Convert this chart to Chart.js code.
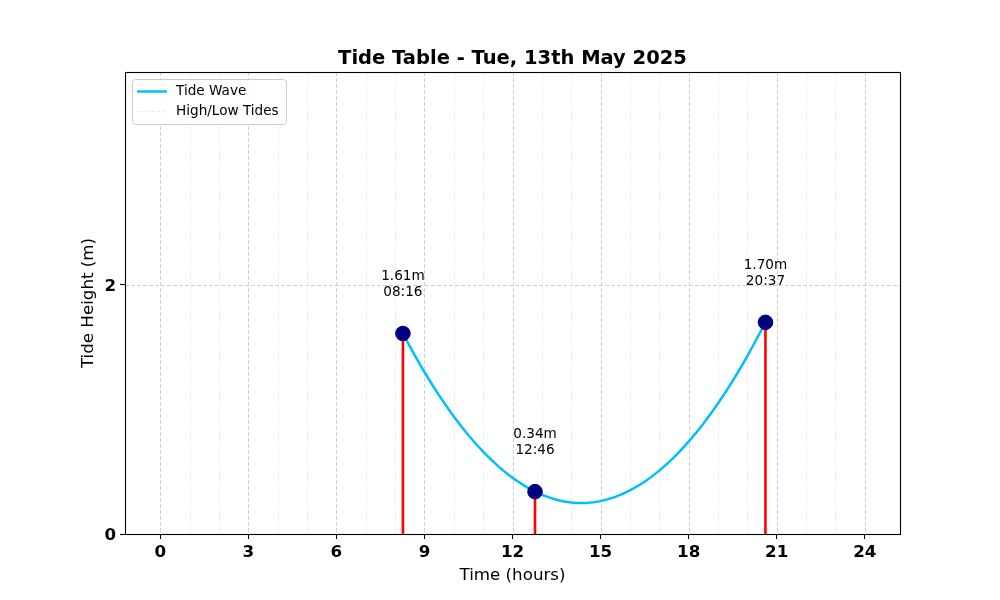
<!DOCTYPE html>
<html><head><meta charset="utf-8">
<script src="https://cdn.jsdelivr.net/npm/chart.js@4.4.0/dist/chart.umd.min.js"></script>
<style>html,body{margin:0;padding:0;background:#fff}</style>
</head><body>
<canvas id="c" width="1000" height="600"></canvas>
<script>
const titleText = "Tide Table - Tue, 13th May 2025";
const xAxisTitle = "Time (hours)";
const yAxisTitle = "Tide Height (m)";
const legendLabels = ["Tide Wave", "High/Low Tides"];

const tideTimes = [8.267, 12.767, 20.617];
const tideClock = ["08:16", "12:46", "20:37"];
const tideHeights = [1.61, 0.34, 1.70];

const waveHours = [8.267, 8.5, 9, 9.5, 10, 10.5, 11, 11.5, 12, 12.5, 12.767, 13, 13.5, 14, 14.5, 15, 15.5, 16, 16.5, 17, 17.5, 18, 18.5, 19, 19.5, 20, 20.5, 20.617];
const waveHeights = [1.61, 1.508, 1.301, 1.113, 0.944, 0.793, 0.661, 0.547, 0.451, 0.374, 0.34, 0.315, 0.275, 0.253, 0.249, 0.264, 0.298, 0.350, 0.420, 0.509, 0.616, 0.742, 0.886, 1.048, 1.229, 1.429, 1.647, 1.70];

const xMajorTicks = [0, 3, 6, 9, 12, 15, 18, 21, 24];
const xMinorTicks = [1, 2, 4, 5, 7, 8, 10, 11, 13, 14, 16, 17, 19, 20, 22, 23];
const yTicks = [0, 2];

const FONT = "'DejaVu Sans', 'Liberation Sans', sans-serif";

const decorPlugin = {
  id: 'decor',
  beforeDatasetsDraw(chart) {
    const c = chart.ctx, xs = chart.scales.x, ys = chart.scales.y, a = chart.chartArea;
    c.save();
    c.strokeStyle = '#dddddd'; c.lineWidth = 0.6; c.setLineDash([3, 2]);
    xMinorTicks.forEach(v => {
      const px = Math.round(xs.getPixelForValue(v)) + 0.5;
      c.beginPath(); c.moveTo(px, a.top); c.lineTo(px, a.bottom); c.stroke();
    });
    c.strokeStyle = '#cccccc'; c.lineWidth = 0.9; c.setLineDash([4, 2]);
    xMajorTicks.forEach(v => {
      const px = Math.round(xs.getPixelForValue(v)) + 0.5;
      c.beginPath(); c.moveTo(px, a.top); c.lineTo(px, a.bottom); c.stroke();
    });
    yTicks.forEach(v => {
      const py = Math.round(ys.getPixelForValue(v)) + 0.5;
      c.beginPath(); c.moveTo(a.left, py); c.lineTo(a.right, py); c.stroke();
    });
    c.restore();
  },
  afterDatasetsDraw(chart) {
    const c = chart.ctx, xs = chart.scales.x, ys = chart.scales.y, a = chart.chartArea;
    c.save();
    c.setLineDash([]);
    c.strokeStyle = '#000'; c.lineWidth = 1.1;
    c.strokeRect(Math.round(a.left) + 0.5, Math.round(a.top) + 0.5, Math.round(a.right - a.left), Math.round(a.bottom - a.top));
    c.fillStyle = '#000';
    c.font = "13.6px " + FONT;
    c.textAlign = 'center'; c.textBaseline = 'middle';
    tideTimes.forEach((t, i) => {
      const px = xs.getPixelForValue(t), py = ys.getPixelForValue(tideHeights[i]);
      c.fillText(tideHeights[i].toFixed(2) + 'm', px, py - 57);
      c.fillText(tideClock[i], px, py - 41);
    });
    c.font = "bold 19.5px " + FONT;
    c.fillText(titleText, (a.left + a.right) / 2, 58.5);
    c.font = "16.7px " + FONT;
    c.fillText(xAxisTitle, (a.left + a.right) / 2, 575.5);
    c.save();
    c.translate(88.5, (a.top + a.bottom) / 2);
    c.rotate(-Math.PI / 2);
    c.fillText(yAxisTitle, 0, 0);
    c.restore();
    const lx = 132.5, ly = 79.5, lw = 154, lh = 45, r = 3;
    c.beginPath();
    c.moveTo(lx + r, ly); c.lineTo(lx + lw - r, ly); c.quadraticCurveTo(lx + lw, ly, lx + lw, ly + r);
    c.lineTo(lx + lw, ly + lh - r); c.quadraticCurveTo(lx + lw, ly + lh, lx + lw - r, ly + lh);
    c.lineTo(lx + r, ly + lh); c.quadraticCurveTo(lx, ly + lh, lx, ly + lh - r);
    c.lineTo(lx, ly + r); c.quadraticCurveTo(lx, ly, lx + r, ly); c.closePath();
    c.fillStyle = 'rgba(255,255,255,0.9)'; c.fill();
    c.strokeStyle = '#cccccc'; c.lineWidth = 1; c.stroke();
    c.strokeStyle = '#00BFFF'; c.lineWidth = 2.5;
    c.beginPath(); c.moveTo(137, 91.5); c.lineTo(167, 91.5); c.stroke();
    c.strokeStyle = '#dddddd'; c.lineWidth = 0.6; c.setLineDash([3, 2]);
    c.beginPath(); c.moveTo(137, 111.5); c.lineTo(167, 111.5); c.stroke();
    c.setLineDash([]);
    c.fillStyle = '#000'; c.font = "13.6px " + FONT; c.textAlign = 'left';
    c.fillText(legendLabels[0], 176, 91.5);
    c.fillText(legendLabels[1], 176, 111.5);
    c.restore();
  }
};

const datasets = [
  { type: 'line', label: legendLabels[0], data: waveHours.map((h, i) => ({ x: h, y: waveHeights[i] })),
    borderColor: '#00BFFF', borderWidth: 2.5, pointRadius: 0, tension: 0.4, fill: false, order: 3 },
  ...tideTimes.map((t, i) => ({ type: 'line', label: 'stem' + i, data: [{ x: t, y: 0 }, { x: t, y: tideHeights[i] }],
    borderColor: '#ff0000', borderWidth: 2.6, pointRadius: 0, fill: false, order: 2 })),
  { type: 'scatter', label: legendLabels[1], data: tideTimes.map((t, i) => ({ x: t, y: tideHeights[i] })),
    backgroundColor: '#000080', borderColor: '#000080', pointRadius: 7.3, pointHoverRadius: 7.3, order: 1 }
];

new Chart(document.getElementById('c'), {
  type: 'scatter',
  data: { datasets },
  options: {
    responsive: false, animation: false, devicePixelRatio: 1,
    layout: { padding: { top: 72, right: 100, left: 0, bottom: 0 } },
    plugins: { legend: { display: false }, tooltip: { enabled: false }, title: { display: false } },
    scales: {
      x: {
        type: 'linear', min: -1.2, max: 25.2,
        afterBuildTicks: s => { s.ticks = xMajorTicks.map(v => ({ value: v })); },
        afterFit: s => { s.height = 66; },
        grid: { drawOnChartArea: false, drawTicks: true, tickLength: 5, tickColor: '#000', tickWidth: 1.1 },
        border: { display: false },
        ticks: { font: { family: FONT, size: 16.7, weight: 'bold' }, color: '#000', padding: 4, maxRotation: 0, autoSkip: false }
      },
      y: {
        type: 'linear', min: 0, max: 3.71,
        afterBuildTicks: s => { s.ticks = yTicks.map(v => ({ value: v })); },
        afterFit: s => { s.width = 125; },
        grid: { drawOnChartArea: false, drawTicks: true, tickLength: 5, tickColor: '#000', tickWidth: 1.1 },
        border: { display: false },
        ticks: { font: { family: FONT, size: 16.7, weight: 'bold' }, color: '#000', padding: 4, labelOffset: 2 }
      }
    }
  },
  plugins: [decorPlugin]
});
</script>
</body></html>
